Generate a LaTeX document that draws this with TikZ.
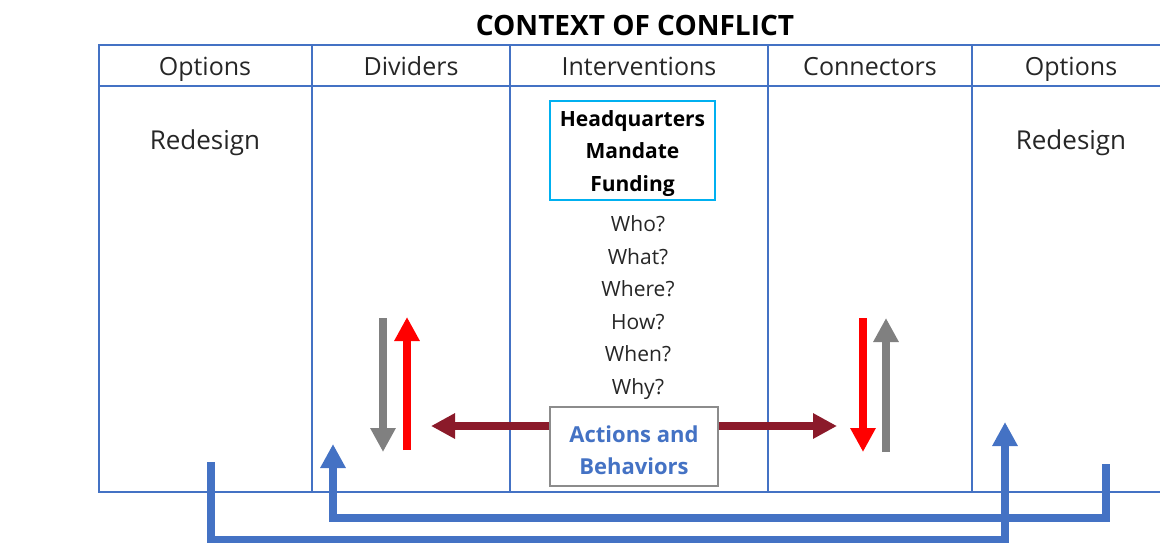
\documentclass[tikz,border=0pt]{standalone}
\usepackage{fontspec}
\setmainfont{Open Sans}
\usetikzlibrary{positioning,arrows.meta}
\definecolor{tblue}{HTML}{4472C4}
\definecolor{hqcyan}{HTML}{00B0F0}
\definecolor{actgray}{HTML}{8C8C8C}
\definecolor{darkred}{HTML}{8B1A2A}
\definecolor{midgray}{HTML}{808080}

\begin{document}
\begin{tikzpicture}[x=1pt, y=-1pt,
  txt/.style={text=black!85, text height=15pt, text depth=4pt, font=\fontsize{21}{26}\selectfont},
  hdr/.style={txt, text height=18pt, text depth=5pt, font=\fontsize{25}{30}\selectfont},
  fat/.style={line width=8pt, -{Triangle[length=24pt, width=24pt]}}]
\useasboundingbox (0,0) rectangle (1160,542);

% Table
\draw[tblue, line width=2pt] (1160,45) -- (99,45) -- (99,492) -- (1160,492);
\draw[tblue, line width=2pt] (99,86) -- (1160,86);
\foreach \x in {312,510,768,972}
  \draw[tblue, line width=2pt] (\x,45) -- (\x,492);

% Title and headers
\node[font=\bfseries\fontsize{28}{32}\selectfont] (title) at (635,25) {CONTEXT OF CONFLICT};
\node[hdr] (opt1) at (205,69) {Options};
\node[hdr] (div) at (411,69) {Dividers};
\node[hdr] (int) at (639,69) {Interventions};
\node[hdr] (con) at (870,69) {Connectors};
\node[hdr] (opt2) at (1071,69) {Options};
\node[hdr, font=\fontsize{26}{30}\selectfont] (red1) at (205,142.5) {Redesign};
\node[hdr, font=\fontsize{26}{30}\selectfont] (red2) at (1071,142.5) {Redesign};

% Boxes
\node[draw=hqcyan, line width=1.5pt, minimum width=165pt, minimum height=99pt, align=center,
  font=\bfseries\fontsize{21}{32.5}\selectfont] (hq) at (632.5,150.5)
  {\rule{0pt}{22pt}Headquarters\\Mandate\\Funding};
\foreach \q [count=\i] in {Who?,What?,Where?,How?,When?,Why?}
  \node[txt] (q\i) at (638,{193.5+32.5*\i}) {\q};
\node[draw=actgray, line width=1.5pt, minimum width=168pt, minimum height=79pt, align=center,
  text=tblue, font=\bfseries\fontsize{22}{32}\selectfont] (act) at (634,446.5)
  {\rule{0pt}{25pt}Actions and\\Behaviors};

% Arrows
\coordinate (dl) at (431,426);
\coordinate (dr) at (837,426);
\draw[fat, darkred] (act.west |- dl) -- (dl);
\draw[fat, darkred] (act.east |- dr) -- (dr);

\coordinate (gl1) at (383,318); \coordinate (gl2) at (383,452);
\coordinate (rl1) at (407,450); \coordinate (rl2) at (407,317);
\coordinate (rr1) at (863,318); \coordinate (rr2) at (863,452);
\coordinate (gr1) at (886,452); \coordinate (gr2) at (886,318);
\draw[fat, midgray] (gl1) -- (gl2);
\draw[fat, red] (rl1) -- (rl2);
\draw[fat, red] (rr1) -- (rr2);
\draw[fat, midgray] (gr1) -- (gr2);

% Feedback loops
\coordinate (b1) at (211,462); \coordinate (b1e) at (1005,422);
\coordinate (b2) at (1106,464); \coordinate (b2e) at (333,444);
\draw[fat, tblue] (b1) |- (1005,540) -- (b1e);
\draw[fat, tblue] (b2) |- (333,518) -- (b2e);

\end{tikzpicture}
\end{document}
